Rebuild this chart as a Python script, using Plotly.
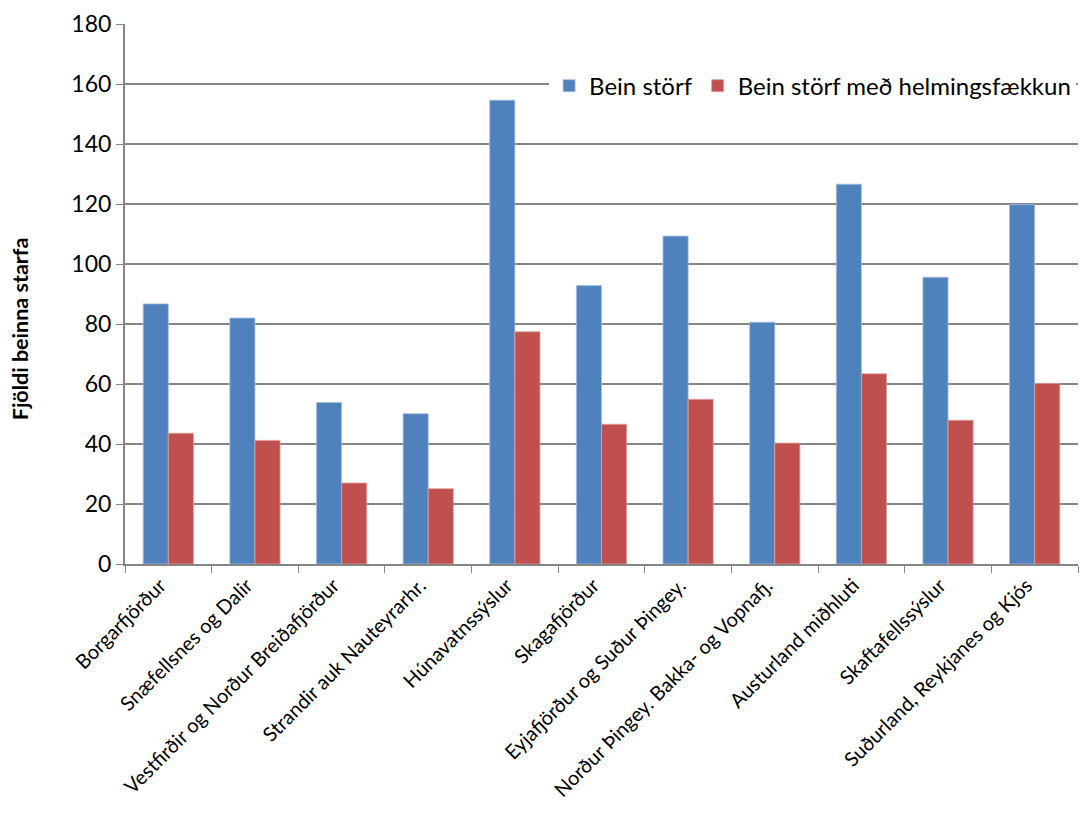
import plotly.graph_objects as go

categories = ["Borgarfjörður", "Snæfellsnes og Dalir", "Vestfirðir og Norður Breiðafjörður",
              "Strandir auk Nauteyrarhr.", "Húnavatnssýslur", "Skagafjörður",
              "Eyjafjörður og Suður Þingey.", "Norður Þingey. Bakka- og Vopnafj.",
              "Austurland miðhluti", "Skaftafellssýslur", "Suðurland, Reykjanes og Kjós"]
bein_storf = [86.7, 82.0, 53.8, 50.1, 154.6, 92.8, 109.3, 80.6, 126.6, 95.6, 119.8]
bein_storf_helm = [43.6, 41.2, 27.0, 25.1, 77.4, 46.6, 54.9, 40.3, 63.4, 47.9, 60.2]
y_ticks = [0, 20, 40, 60, 80, 100, 120, 140, 160, 180]
y_title = "Fjöldi beinna starfa"

FONT = "Lato"
fig = go.Figure()
fig.add_trace(go.Bar(x=categories, y=bein_storf, name="Bein störf",
                     marker=dict(color="#4F81BD", line=dict(color="#A7BFDE", width=0.8))))
fig.add_trace(go.Bar(x=categories, y=bein_storf_helm, name="Bein störf með helmingsfækkun",
                     marker=dict(color="#C0504D", line=dict(color="#E0A09E", width=0.8))))

fig.add_annotation(text="<b>" + y_title + "</b>", textangle=-90, xref="paper", yref="paper",
                   x=-0.11, y=0.435, xanchor="center", yanchor="middle", showarrow=False,
                   font=dict(size=21.5, family=FONT, color="black"))

fig.update_layout(
    width=1087, height=827,
    margin=dict(l=117, r=17, t=16, b=271),
    paper_bgcolor="white", plot_bgcolor="white",
    font=dict(family=FONT, color="black", size=20),
    barmode="group", bargap=0.42, bargroupgap=0,
    legend=dict(orientation="h", x=0.445, y=0.885, xanchor="left", yanchor="middle",
                bgcolor="white", font=dict(size=24, family=FONT), itemwidth=30,
                traceorder="normal"),
    xaxis=dict(tickangle=-45, tickfont=dict(size=20, family=FONT), showline=True,
               linecolor="#868686", linewidth=2, ticks="outside", tickson="boundaries",
               ticklen=7, tickcolor="#868686", showgrid=False, automargin=False,
               ticklabelshift=-8),
    yaxis=dict(range=[0, 180], tickvals=y_ticks, tickfont=dict(size=23, family=FONT),
               showline=True, linecolor="#868686", linewidth=2, ticks="outside",
               ticklen=7, tickcolor="#868686", showgrid=True, gridcolor="#868686",
               gridwidth=1.5, zeroline=False, automargin=False),
)
fig.write_html("out.html")
